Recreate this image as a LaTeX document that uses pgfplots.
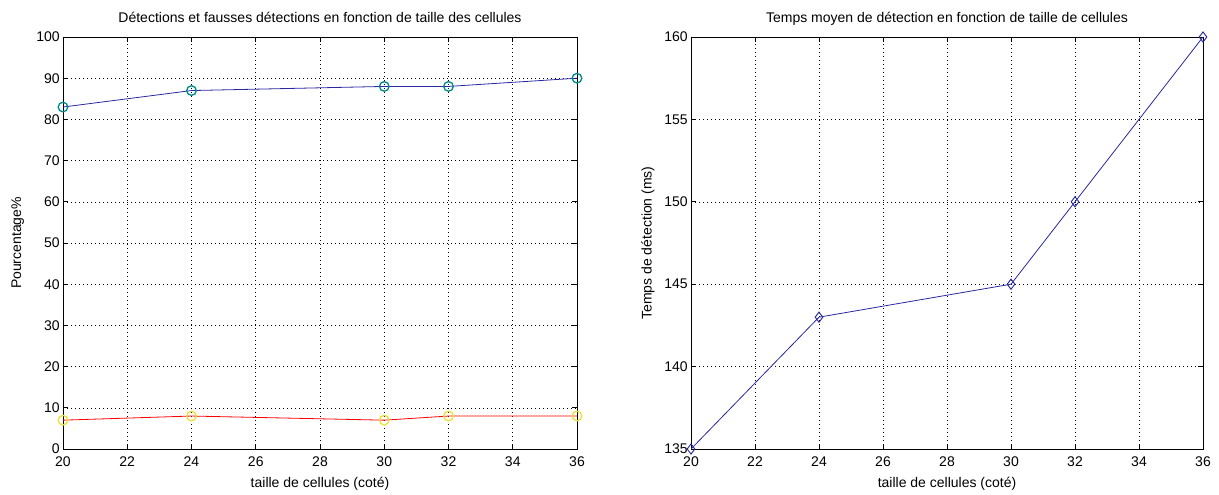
\documentclass[border=0pt]{standalone}
\usepackage{pgfplots}
\pgfplotsset{compat=1.18}
\usepackage{fontspec}
\setmainfont{Liberation Sans}
\definecolor{mlblue}{RGB}{40,40,160}
\definecolor{mlcyan}{RGB}{0,140,140}
\definecolor{mlyellow}{RGB}{235,225,60}
\begin{document}
\begin{tikzpicture}
\useasboundingbox (-47.25pt,-34.5pt) rectangle (867pt,336.75pt);
\pgfplotsset{mlstyle/.style={
  scale only axis, height=309pt,
  xmin=20, xmax=36, xtick={20,22,...,36},
  grid=major, grid style={black, dash pattern=on 0.75pt off 2.25pt},
  tick align=inside, major tick length=4pt,
  axis line style={black, line width=0.6pt},
  every tick/.style={black, line width=0.5pt},
  font=\fontsize{10.5}{12}\selectfont,
  /pgf/number format/assume math mode=true,
  title style={at={(0.5,1)}, anchor=base, yshift=4.5pt},
  xticklabel style={anchor=base, yshift=-13pt},
  xlabel style={at={(axis description cs:0.5,0)}, anchor=base, yshift=-29pt},
  yticklabel style={xshift=1pt},
}}
% left
\begin{axis}[mlstyle, width=385.5pt,
  ymin=0, ymax=100, ytick={0,10,...,100},
  title={Détections et fausses détections en fonction de taille des cellules},
  xlabel={taille de cellules (coté)},
  ylabel={Pourcentage\%},
  ylabel style={at={(axis description cs:-0.088,0.5)}, anchor=center}]
\addplot[mlblue, line width=0.6pt, mark=o, mark size=3.6pt,
  mark options={mlcyan, line width=1pt}] coordinates
 {(20,83) (24,87) (30,88) (32,88) (36,90)};
\addplot[red, line width=0.6pt, mark=o, mark size=3.6pt,
  mark options={mlyellow, line width=1pt}] coordinates
 {(20,7) (24,8) (30,7) (32,8) (36,8)};
\end{axis}
% right
\begin{axis}[mlstyle, width=384pt, xshift=471pt,
  ymin=135, ymax=160, ytick={135,140,...,160},
  title={Temps moyen de détection en fonction de taille de cellules},
  xlabel={taille de cellules (coté)},
  ylabel={Temps de détection (ms)},
  ylabel style={at={(axis description cs:-0.084,0.5)}, anchor=center}]
\addplot[mlblue, line width=0.6pt, mark=diamond, mark size=3.8pt,
  mark options={mlblue, line width=0.7pt}] coordinates
 {(20,135) (24,143) (30,145) (32,150) (36,160)};
\end{axis}
\end{tikzpicture}
\end{document}
